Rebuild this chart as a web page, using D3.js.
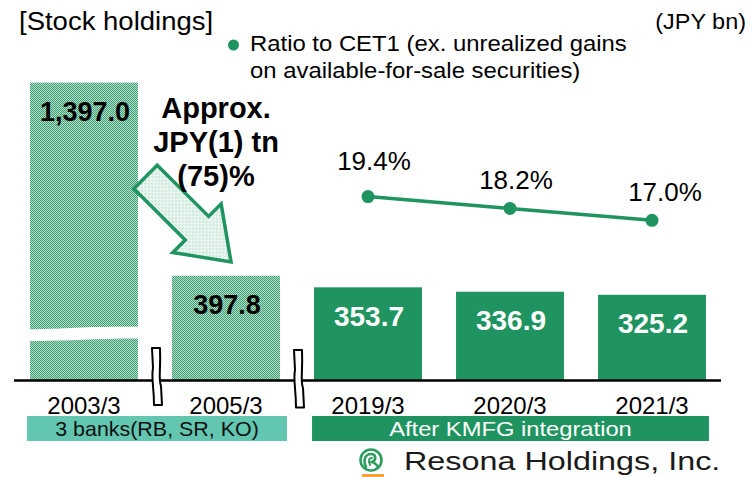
<!DOCTYPE html>
<html>
<head>
<meta charset="utf-8">
<script src="https://cdn.jsdelivr.net/npm/d3@7"></script>
<style>
  html, body { margin: 0; padding: 0; background: #fff; }
  svg { display: block; }
  text { font-family: "Liberation Sans", Arial, sans-serif; }
</style>
</head>
<body>
<div id="chart"></div>
<script>
// ---------------- data ----------------
const categories = ["2003/3", "2005/3", "2019/3", "2020/3", "2021/3"];
const holdings   = [1397.0, 397.8, 353.7, 336.9, 325.2];
const barEra     = ["banks", "banks", "kmfg", "kmfg", "kmfg"];
const ratioCategories = ["2019/3", "2020/3", "2021/3"];
const ratioValues     = [19.4, 18.2, 17.0];
const eraLabels = ["3 banks(RB, SR, KO)", "After KMFG integration"];
const eraSpans  = [["2003/3", "2005/3"], ["2019/3", "2021/3"]];
const titleText = "[Stock holdings]";
const unitText  = "(JPY bn)";
const legendLines = ["Ratio to CET1 (ex. unrealized gains", "on available-for-sale securities)"];
const annotationLines = ["Approx.", "JPY(1) tn", "(75)%"];
const logoText = "Resona Holdings, Inc.";

// ---------------- setup ----------------
const W = 756, H = 477;
const GREEN = "#1f9460", TEAL = "#62c6b0";
const svg = d3.select("#chart").append("svg").attr("width", W).attr("height", H);
svg.append("rect").attr("width", W).attr("height", H).attr("fill", "#fff");

function stretch(sel, k) {
  sel.each(function () {
    const w = this.getComputedTextLength();
    this.setAttribute("textLength", w * k);
    this.setAttribute("lengthAdjust", "spacingAndGlyphs");
  });
}

const defs = svg.append("defs");
const pBar = defs.append("pattern").attr("id", "barPat").attr("patternUnits", "userSpaceOnUse")
  .attr("width", 2).attr("height", 2);
pBar.append("rect").attr("width", 2).attr("height", 2).attr("fill", "#b3dec9");
pBar.append("rect").attr("x", 0).attr("y", 0).attr("width", 1).attr("height", 1).attr("fill", "#3f9e74");
pBar.append("rect").attr("x", 1).attr("y", 1).attr("width", 1).attr("height", 1).attr("fill", "#3f9e74");

const pArrow = defs.append("pattern").attr("id", "arrowPat").attr("patternUnits", "userSpaceOnUse")
  .attr("width", 2).attr("height", 2);
pArrow.append("rect").attr("width", 2).attr("height", 2).attr("fill", "#ffffff");
pArrow.append("rect").attr("x", 0).attr("y", 0).attr("width", 1).attr("height", 1).attr("fill", "#a9d8c2");
pArrow.append("rect").attr("x", 1).attr("y", 1).attr("width", 1).attr("height", 1).attr("fill", "#d8efe4");

// scales
const x = d3.scalePoint().domain(categories).range([13, 723]).padding(0.5);
const bw = x.step() * 0.76;
const y = d3.scaleLinear().domain([0, 400, 1400]).range([380, 275.2, 82]);   // broken axis
const y2 = d3.scaleLinear().domain([15, 20]).range([240.1, 190.6]);

// ---------------- bars ----------------
const bars = categories.map((c, i) => ({ c, v: holdings[i], era: barEra[i] }));
svg.append("g").selectAll("rect").data(bars).join("rect")
  .attr("x", d => x(d.c) - bw / 2)
  .attr("y", d => y(d.v))
  .attr("width", bw)
  .attr("height", d => y(0) - y(d.v))
  .attr("fill", d => d.era === "banks" ? "url(#barPat)" : GREEN);

// break gap on the tall bar
{
  const x0 = x(categories[0]) - bw / 2 - 2, x1 = x(categories[0]) + bw / 2 + 2, xm = (x0 + x1) / 2;
  svg.append("path")
    .attr("d", `M${x0},329.5 C${xm - 20},329 ${xm - 10},326.5 ${x1},326.8 L${x1},338.6 C${xm + 10},338.4 ${xm - 20},341.5 ${x0},341 Z`)
    .attr("fill", "#fff");
}

// value labels
svg.append("g").selectAll("text").data(bars).join("text")
  .attr("x", d => x(d.c) + 1)
  .attr("y", d => y(d.v) + 38.5)
  .attr("text-anchor", "middle")
  .attr("font-weight", "bold")
  .attr("font-size", d => d.era === "banks" ? 27 : 28)
  .attr("fill", d => d.era === "banks" ? "#000" : "#fff")
  .text(d => d3.format(",.1f")(d.v));

// axis baseline
svg.append("line").attr("x1", 14).attr("x2", 721).attr("y1", 380.5).attr("y2", 380.5)
  .attr("stroke", "#000").attr("stroke-width", 2.5);

// axis break markers
const breakXs = [ (x(categories[0]) + x(categories[1])) / 2 + 2, (x(categories[1]) + x(categories[2])) / 2 + 2 ];
breakXs.forEach((bx, i) => {
  const top = 348 + i * 2, bot = 405 + i * 2.5;
  svg.append("path")
    .attr("d", `M${bx - 5},${top} L${bx + 3},${top} C${bx + 4},${top + 25} ${bx + 1},${top + 30} ${bx + 4},${top + 38} L${bx + 5},${bot} L${bx - 3},${bot} C${bx - 3},${top + 38} ${bx - 6},${top + 30} ${bx - 4},${top + 20} Z`)
    .attr("fill", "#fff").attr("stroke", "#000").attr("stroke-width", 2).attr("stroke-linejoin", "round");
});

// category tick labels
svg.append("g").selectAll("text").data(categories).join("text")
  .attr("x", d => x(d))
  .attr("y", 414)
  .attr("text-anchor", "middle")
  .attr("font-size", 24)
  .attr("fill", "#000")
  .text(d => d);

// era boxes
const eraX = [
  [x(eraSpans[0][0]) - bw / 2 - 3, x(eraSpans[0][1]) + bw / 2 + 7],
  [x(eraSpans[1][0]) - bw / 2 - 2, x(eraSpans[1][1]) + bw / 2 + 3]
];
eraLabels.forEach((lab, i) => {
  svg.append("rect").attr("x", eraX[i][0]).attr("y", 416).attr("width", eraX[i][1] - eraX[i][0]).attr("height", 25)
    .attr("fill", i === 0 ? TEAL : GREEN);
  const t = svg.append("text").attr("x", (eraX[i][0] + eraX[i][1]) / 2).attr("y", 436)
    .attr("text-anchor", "middle").attr("font-size", 21)
    .attr("fill", i === 0 ? "#111" : "#fff").text(lab);
  stretch(t, i === 0 ? 1.02 : 1.13);
});

// ---------------- ratio line ----------------
const pts = ratioCategories.map((c, i) => ({ c, v: ratioValues[i] }));
svg.append("path").datum(pts)
  .attr("d", d3.line().x(d => x(d.c)).y(d => y2(d.v)))
  .attr("fill", "none").attr("stroke", GREEN).attr("stroke-width", 3.5);
svg.append("g").selectAll("circle").data(pts).join("circle")
  .attr("cx", d => x(d.c)).attr("cy", d => y2(d.v)).attr("r", 6.5).attr("fill", GREEN);
const labDx = [6, 6, 13], labDy = [-27, -19, -19];
svg.append("g").selectAll("text").data(pts).join("text")
  .attr("x", (d, i) => x(d.c) + labDx[i])
  .attr("y", (d, i) => y2(d.v) + labDy[i])
  .attr("text-anchor", "middle").attr("font-size", 26).attr("fill", "#000")
  .text(d => d3.format(".1f")(d.v) + "%");

// ---------------- annotation arrow ----------------
{
  const sx = 145.5, sy = 177, tx = 231, ty = 262;
  const L = Math.hypot(tx - sx, ty - sy), ang = Math.atan2(ty - sy, tx - sx) * 180 / Math.PI;
  const sh = 16.6, hh = 34.3, hl = 48;
  const shape = [[0, -sh], [L - hl, -sh], [L - hl, -hh], [L, 0], [L - hl, hh], [L - hl, sh], [0, sh]];
  svg.append("path")
    .attr("d", d3.line()(shape) + "Z")
    .attr("transform", `translate(${sx},${sy}) rotate(${ang})`)
    .attr("fill", "url(#arrowPat)").attr("stroke", GREEN).attr("stroke-width", 3.5).attr("stroke-linejoin", "miter");
}
svg.append("g").selectAll("text").data(annotationLines).join("text")
  .attr("x", 216).attr("y", (d, i) => 118 + i * 34)
  .attr("text-anchor", "middle").attr("font-weight", "bold").attr("font-size", 29).attr("fill", "#000")
  .text(d => d);

// ---------------- titles & legend ----------------
stretch(svg.append("text").attr("x", 19).attr("y", 30).attr("font-size", 25).attr("fill", "#000").text(titleText), 1.1);
stretch(svg.append("text").attr("x", 746).attr("y", 29).attr("text-anchor", "end").attr("font-size", 21.5).attr("fill", "#000").text(unitText), 1.09);
svg.append("circle").attr("cx", 233.5).attr("cy", 45).attr("r", 5.5).attr("fill", GREEN);
legendLines.forEach((l, i) => {
  stretch(svg.append("text").attr("x", 250).attr("y", 51 + i * 27).attr("font-size", 21.5).attr("fill", "#000").text(l), 1.11);
});

// ---------------- logo ----------------
{
  const g = svg.append("g").attr("transform", "translate(371,460)");
  g.append("circle").attr("r", 10.5).attr("fill", "#fff").attr("stroke", "#2e9e5e").attr("stroke-width", 2.6);
  g.append("path").attr("d", "M-5,7 C-8,0 -6,-6 0,-6 C5,-6 6,0 1,2 C5,3 6,6 8,7")
    .attr("fill", "none").attr("stroke", "#2e9e5e").attr("stroke-width", 2.6).attr("stroke-linecap", "round");
  g.append("path").attr("d", "M-1,5 C-3,0 -2,-2 1,-2")
    .attr("fill", "none").attr("stroke", "#2e9e5e").attr("stroke-width", 2).attr("stroke-linecap", "round");
  svg.append("rect").attr("x", 362).attr("y", 474).attr("width", 22).attr("height", 3).attr("fill", "#f2a13c");
  const t = svg.append("text").attr("x", 404).attr("y", 469.5).attr("font-size", 26.5).attr("fill", "#1a1a1a").text(logoText);
  stretch(t, 1.22);
}
</script>
</body>
</html>
